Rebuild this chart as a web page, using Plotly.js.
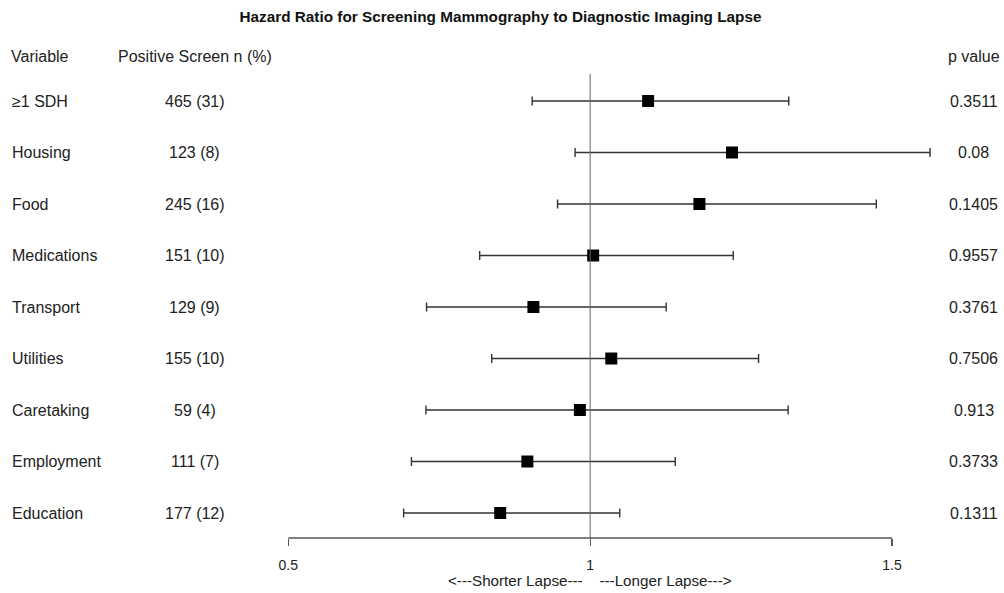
<!DOCTYPE html>
<html>
<head>
<meta charset="utf-8">
<script src="https://cdn.plot.ly/plotly-3.0.1.min.js"></script>
<style>html,body{margin:0;padding:0;background:#fff;}#chart{width:1004px;height:593px;}</style>
</head>
<body>
<div id="chart"></div>
<script>
// ---- data ----
const variables = ["≥1 SDH", "Housing", "Food", "Medications", "Transport", "Utilities", "Caretaking", "Employment", "Education"];
const positiveScreen = ["465 (31)", "123 (8)", "245 (16)", "151 (10)", "129 (9)", "155 (10)", "59 (4)", "111 (7)", "177 (12)"];
const hazardRatio = [1.096, 1.235, 1.181, 1.005, 0.906, 1.035, 0.983, 0.896, 0.851];
const ciLower = [0.904, 0.975, 0.946, 0.817, 0.729, 0.837, 0.728, 0.704, 0.691];
const ciUpper = [1.329, 1.563, 1.474, 1.237, 1.126, 1.279, 1.328, 1.141, 1.049];
const pValues = ["0.3511", "0.08", "0.1405", "0.9557", "0.3761", "0.7506", "0.913", "0.3733", "0.1311"];
const xTickVals = [0.5, 1, 1.5];
const xTickText = ["0.5", "1", "1.5"];
const xLabel = "&lt;---Shorter Lapse---&nbsp;&nbsp;&nbsp;&nbsp;---Longer Lapse---&gt;";

// ---- layout constants (pixels of a 1004x593 page) ----
const W = 1004, H = 593;
const px = v => v / W;          // horizontal pixel -> paper
const py = v => 1 - v / H;      // vertical pixel -> paper
const FONT = "Liberation Sans, Arial, Helvetica, sans-serif";
const txtFont = {family: FONT, size: 16, color: "#222"};

// x scale: 0.5 at 288.3px, 1.5 at 892px -> extend over full page width
const x05 = 288.3, x15 = 892;
const unitPx = (x15 - x05);
const xRange = [0.5 - x05 / unitPx, 1.5 + (W - x15) / unitPx];

const trace = {
  type: "scatter",
  mode: "markers",
  x: hazardRatio,
  y: variables,
  cliponaxis: false,
  marker: {symbol: "square", size: 12, color: "#000"},
  error_x: {
    type: "data",
    symmetric: false,
    array: ciUpper.map((u, i) => u - hazardRatio[i]),
    arrayminus: ciLower.map((l, i) => hazardRatio[i] - l),
    color: "#333",
    thickness: 1.4,
    width: 4.5
  },
  hoverinfo: "skip",
  showlegend: false
};

const annotations = [];
variables.forEach((v, i) => {
  annotations.push({xref: "paper", yref: "y", x: px(10), y: v, xanchor: "left", yanchor: "middle",
    text: v, showarrow: false, font: txtFont});
  annotations.push({xref: "paper", yref: "y", x: px(194.5), y: v, xanchor: "center", yanchor: "middle",
    text: positiveScreen[i], showarrow: false, font: txtFont});
  annotations.push({xref: "paper", yref: "y", x: px(973.5), y: v, xanchor: "center", yanchor: "middle",
    text: pValues[i], showarrow: false, font: txtFont});
});
// column headers
annotations.push({xref: "paper", yref: "paper", x: px(9), y: py(56), xanchor: "left", yanchor: "middle",
  text: "Variable", showarrow: false, font: txtFont});
annotations.push({xref: "paper", yref: "paper", x: px(116), y: py(56), xanchor: "left", yanchor: "middle",
  text: "Positive Screen n (%)", showarrow: false, font: txtFont});
annotations.push({xref: "paper", yref: "paper", x: px(974), y: py(56), xanchor: "center", yanchor: "middle",
  text: "p value", showarrow: false, font: txtFont});
// x axis label, centred on HR = 1
annotations.push({xref: "x", yref: "paper", x: 1, y: py(580), xanchor: "center", yanchor: "middle",
  text: xLabel, showarrow: false, font: {family: FONT, size: 15.2, color: "#222"}});

// row positions: first row centre at 101px, spacing 51.5px; axis at 538px, reference line top at 74px
const rowTop = 101, rowStep = 51.5, axisPx = 538, refTop = 74;
const yRange = [(axisPx - rowTop) / rowStep, (refTop - rowTop) / rowStep];

const layout = {
  width: W, height: H,
  margin: {l: 0, r: 0, t: 0, b: 0, pad: 0},
  paper_bgcolor: "#fff",
  plot_bgcolor: "rgba(0,0,0,0)",
  title: {
    text: "Hazard Ratio for Screening Mammography to Diagnostic Imaging Lapse",
    font: {family: FONT, size: 15.3, color: "#111", weight: "bold"},
    x: px(500.5), xanchor: "center", xref: "paper",
    y: py(17), yanchor: "middle", yref: "paper"
  },
  xaxis: {
    domain: [0, 1],
    range: xRange,
    showgrid: false, zeroline: false,
    showline: false,
    ticks: "outside", ticklen: 7, tickwidth: 1.3, tickcolor: "#555",
    tickvals: xTickVals, ticktext: xTickText,
    tickfont: {family: FONT, size: 14, color: "#222"},
    ticklabelstandoff: 7,
    fixedrange: true
  },
  yaxis: {
    domain: [py(axisPx), py(refTop)],
    type: "category",
    categoryorder: "array",
    categoryarray: variables,
    range: yRange,
    visible: false,
    fixedrange: true
  },
  shapes: [
    { // reference line at HR = 1
      type: "line", xref: "x", yref: "y domain",
      x0: 1, x1: 1, y0: 0, y1: 1,
      line: {color: "#666", width: 1}
    },
    { // axis line spanning the tick range
      type: "line", xref: "x", yref: "y domain",
      x0: xTickVals[0], x1: xTickVals[xTickVals.length - 1], y0: 0, y1: 0,
      line: {color: "#555", width: 1.3}
    }
  ],
  annotations: annotations
};

Plotly.newPlot("chart", [trace], layout, {displayModeBar: false, staticPlot: true});
</script>
</body>
</html>
